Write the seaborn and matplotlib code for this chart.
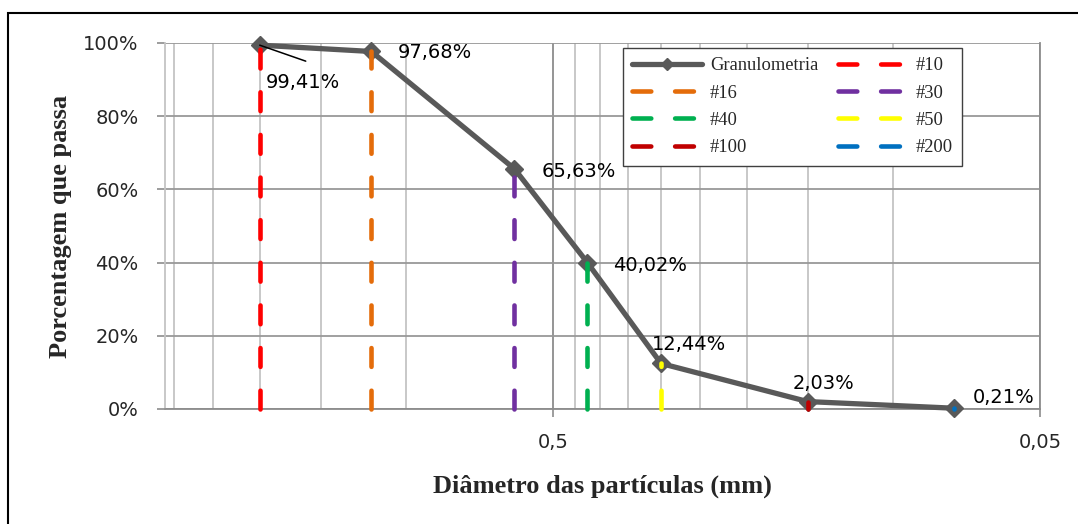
import numpy as np
import pandas as pd
import matplotlib
matplotlib.use("Agg")
import matplotlib.pyplot as plt
import seaborn as sns
from matplotlib.ticker import FixedLocator, LogLocator, FuncFormatter, PercentFormatter, NullFormatter
from matplotlib.patches import Rectangle


# Curva granulometrica - peneiras, abertura (mm) e % passante
sieves = ["#10", "#16", "#30", "#40", "#50", "#100", "#200"]
diameters = [2.0, 1.18, 0.6, 0.425, 0.3, 0.15, 0.075]
passing = [99.41, 97.68, 65.63, 40.02, 12.44, 2.03, 0.21]
sieve_colors = ["#FF0000", "#E46C0A", "#7030A0", "#00B050", "#FFFF00", "#C00000", "#0070C0"]

# posicao dos rotulos (pixels a partir do ponto)
label_offsets = [(6, -37), (26, -1), (27, -3), (26, -3), (-9, 19), (-15, 18), (19, 11)]


sns.set_style("white")
plt.rcParams["font.family"] = ["DejaVu Sans"]

W, H = 1078, 524
fig = plt.figure(figsize=(W / 100, H / 100), dpi=100)
ax = fig.add_axes([165 / W, 1 - 409 / H, 875 / W, 366 / H])

df = pd.DataFrame({"diametro": diameters, "passante": passing})

# linha principal
sns.lineplot(data=df, x="diametro", y="passante", ax=ax, sort=False, estimator=None,
             color="#595959", lw=3.8, marker="D", markersize=9.5,
             markeredgecolor="#595959", markeredgewidth=1,
             label="Granulometria", clip_on=False, zorder=3)
main_line = ax.get_lines()[0]

# linhas tracejadas de cada peneira
sieve_lines = []
for name, d, p, c in zip(sieves, diameters, passing, sieve_colors):
    ln, = ax.plot([d, d], [0, p], color=c, lw=3.3, dashes=(4.1, 5.2),
                  dash_capstyle="round", zorder=4, clip_on=False, label=name)
    sieve_lines.append(ln)

# escalas
ax.set_xscale("log")
ax.set_xlim(3.13, 0.05)
ax.set_ylim(0, 100)
ax.xaxis.set_major_locator(FixedLocator([0.5, 0.05]))
ax.xaxis.set_major_formatter(FuncFormatter(lambda v, _: f"{v:g}".replace(".", ",")))
ax.xaxis.set_minor_locator(LogLocator(base=10, subs=np.arange(1, 10) * 0.5, numticks=30))
ax.xaxis.set_minor_formatter(NullFormatter())
ax.yaxis.set_major_locator(FixedLocator(range(0, 101, 20)))
ax.yaxis.set_major_formatter(PercentFormatter(100, decimals=0))

ax.grid(which="major", axis="y", color="#999999", lw=1.3)
ax.grid(which="minor", axis="x", color="#c4c4c4", lw=1.3)
ax.grid(which="major", axis="x", color="#8c8c8c", lw=1.3)
ax.set_axisbelow(True)

ax.tick_params(axis="y", which="major", length=6, width=1.2, color="#8c8c8c",
               pad=13, labelsize=14, left=True)
ax.tick_params(axis="x", which="major", length=6, width=1.2, color="#8c8c8c",
               pad=11, labelsize=14, bottom=True)
ax.tick_params(axis="x", which="minor", length=0)

ax.spines["top"].set_visible(False)
ax.spines["left"].set_color("#c4c4c4")
ax.spines["bottom"].set_color("#8c8c8c")
ax.spines["right"].set_color("#8c8c8c")
for s in ["left", "bottom", "right"]:
    ax.spines[s].set_linewidth(1.3)

# titulos dos eixos
ax.set_xlabel("Diâmetro das partículas (mm)", fontfamily="Liberation Serif",
              fontweight="bold", fontsize=19, va="center")
ax.xaxis.set_label_coords(0.5, (409 - 486) / 366)
ax.set_ylabel("Porcentagem que passa", fontfamily="Liberation Serif",
              fontweight="bold", fontsize=19, va="center")
ax.yaxis.set_label_coords((61 - 165) / 875, 0.5)

# rotulos de dados
for d, p, off in zip(diameters, passing, label_offsets):
    ax.annotate(f"{p:.2f}".replace(".", ",") + "%", xy=(d, p), xytext=off,
                textcoords="offset pixels", ha="left", va="center",
                fontsize=14, color="black", zorder=6)
# linha de chamada do primeiro rotulo
ax.annotate("", xy=(diameters[0], passing[0]), xytext=(46, -16), textcoords="offset pixels",
            arrowprops=dict(arrowstyle="-", color="black", lw=1.1, shrinkA=0, shrinkB=0),
            zorder=6)

# legenda (preenchida por linhas, como no Excel)
handles = [main_line, sieve_lines[1], sieve_lines[3], sieve_lines[5],
           sieve_lines[0], sieve_lines[2], sieve_lines[4], sieve_lines[6]]
labels = [h.get_label() for h in handles]
leg = ax.legend(handles, labels, ncol=2, loc="upper left",
                bbox_to_anchor=(623 / W, 1 - 48 / H), bbox_transform=fig.transFigure,
                borderaxespad=0, borderpad=0.5, prop={"family": "Liberation Serif", "size": 13.3},
                frameon=True, fancybox=False, edgecolor="#404040", framealpha=1,
                handlelength=3.8, handletextpad=0.4, columnspacing=1.1,
                labelspacing=0.56, markerscale=0.6, numpoints=1)
leg.get_frame().set_linewidth(1.0)
leg.set_zorder(10)

# moldura externa do grafico
fig.patches.append(Rectangle((8 / W, -0.05), 1.1, 0.05 + 1 - 13 / H, transform=fig.transFigure,
                             fill=False, edgecolor="black", lw=1.5))

fig.savefig("out.png", dpi=100)
